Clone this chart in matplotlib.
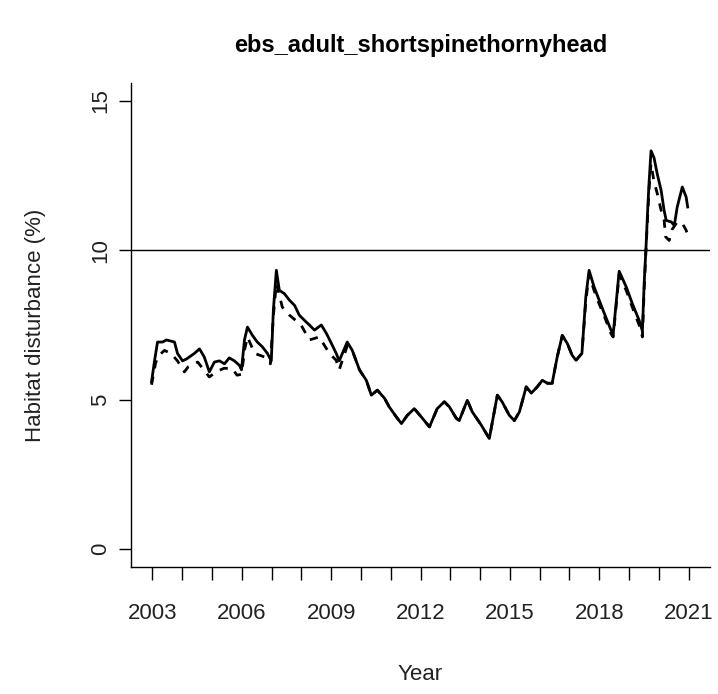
import numpy as np
import matplotlib
matplotlib.use("Agg")
import matplotlib.pyplot as plt

# ---- data ----------------------------------------------------------------
solid_year = [2002.97, 2003.07, 2003.17, 2003.34, 2003.47, 2003.74, 2003.84, 2004.01,
              2004.14, 2004.41, 2004.58, 2004.74, 2004.91, 2005.08, 2005.25, 2005.42,
              2005.58, 2005.75, 2005.92, 2005.99, 2006.09, 2006.19, 2006.36, 2006.52,
              2006.69, 2006.86, 2006.99, 2007.06, 2007.16, 2007.26, 2007.43, 2007.60,
              2007.77, 2007.93, 2008.10, 2008.27, 2008.44, 2008.67, 2008.84, 2009.01,
              2009.17, 2009.27, 2009.54, 2009.71, 2009.95, 2010.18, 2010.35, 2010.55,
              2010.79, 2010.95, 2011.19, 2011.36, 2011.56, 2011.79, 2012.03, 2012.30,
              2012.56, 2012.80, 2012.97, 2013.20, 2013.30, 2013.57, 2013.74, 2014.04,
              2014.31, 2014.58, 2014.74, 2014.98, 2015.15, 2015.32, 2015.55, 2015.72,
              2015.92, 2016.09, 2016.26, 2016.42, 2016.59, 2016.76, 2016.93, 2017.09,
              2017.22, 2017.42, 2017.55, 2017.66, 2017.83, 2018.00, 2018.17, 2018.40,
              2018.47, 2018.67, 2018.91, 2019.11, 2019.34, 2019.45, 2019.51, 2019.57,
              2019.62, 2019.67, 2019.74, 2019.84, 2019.95, 2020.08, 2020.18, 2020.25,
              2020.42, 2020.52, 2020.62, 2020.79, 2020.92, 2020.97]
solid_val = [5.60, 6.30, 6.93, 6.93, 7.00, 6.93, 6.55, 6.30,
             6.36, 6.55, 6.70, 6.43, 5.93, 6.26, 6.30, 6.20,
             6.40, 6.30, 6.15, 6.00, 7.00, 7.43, 7.15, 6.93,
             6.77, 6.55, 6.30, 8.00, 9.33, 8.66, 8.55, 8.33,
             8.16, 7.83, 7.66, 7.50, 7.33, 7.50, 7.22, 6.88,
             6.55, 6.30, 6.93, 6.65, 6.00, 5.65, 5.15, 5.32,
             5.05, 4.76, 4.42, 4.20, 4.48, 4.70, 4.42, 4.09,
             4.70, 4.93, 4.76, 4.38, 4.30, 4.98, 4.59, 4.15,
             3.70, 5.15, 4.93, 4.48, 4.30, 4.59, 5.43, 5.22,
             5.43, 5.65, 5.55, 5.55, 6.43, 7.15, 6.88, 6.49,
             6.32, 6.55, 8.44, 9.33, 8.77, 8.33, 7.89, 7.32,
             7.20, 9.30, 8.77, 8.22, 7.66, 7.30, 8.90, 10.07,
             11.20, 12.20, 13.33, 13.10, 12.55, 12.00, 11.33, 11.00,
             10.95, 10.83, 11.45, 12.12, 11.78, 11.45]

dash_year = [2002.97, 2003.10, 2003.17, 2003.40, 2003.62, 2003.84, 2004.07, 2004.20,
             2004.52, 2004.91, 2005.13, 2005.40, 2005.67, 2005.84, 2005.99, 2006.10,
             2006.19, 2006.43, 2006.76, 2006.96, 2007.06, 2007.16, 2007.36, 2007.60,
             2007.99, 2008.27, 2008.60, 2008.94, 2009.17, 2009.27, 2009.54, 2009.71,
             2009.95, 2010.18, 2010.35, 2010.55, 2010.79, 2010.95, 2011.19, 2011.36,
             2011.56, 2011.79, 2012.03, 2012.30, 2012.56, 2012.80, 2012.97, 2013.20,
             2013.30, 2013.57, 2013.74, 2014.04, 2014.31, 2014.58, 2014.74, 2014.98,
             2015.15, 2015.32, 2015.55, 2015.72, 2015.92, 2016.09, 2016.26, 2016.42,
             2016.59, 2016.76, 2016.93, 2017.09, 2017.22, 2017.42, 2017.55, 2017.66,
             2017.83, 2018.00, 2018.17, 2018.40, 2018.47, 2018.67, 2018.91, 2019.11,
             2019.34, 2019.45, 2019.51, 2019.57, 2019.67, 2019.74, 2019.84, 2019.95,
             2020.08, 2020.18, 2020.23, 2020.35, 2020.45, 2020.62, 2020.79, 2020.92,
             2020.97]
dash_val = [5.50, 6.20, 6.43, 6.65, 6.55, 6.30, 5.93, 6.10,
            6.26, 5.76, 5.93, 6.05, 6.05, 5.82, 5.85, 6.70,
            7.10, 6.55, 6.43, 6.20, 7.80, 8.90, 8.10, 7.83,
            7.50, 7.00, 7.10, 6.55, 6.32, 6.00, 6.80, 6.65,
            6.00, 5.65, 5.15, 5.32, 5.05, 4.76, 4.42, 4.20,
            4.48, 4.70, 4.42, 4.09, 4.70, 4.93, 4.76, 4.38,
            4.30, 4.98, 4.59, 4.15, 3.70, 5.15, 4.93, 4.48,
            4.30, 4.59, 5.43, 5.22, 5.43, 5.65, 5.55, 5.55,
            6.43, 7.15, 6.88, 6.49, 6.32, 6.55, 8.30, 9.20,
            8.65, 8.20, 7.80, 7.20, 7.10, 9.20, 8.65, 8.10,
            7.50, 7.10, 8.70, 10.00, 12.00, 12.90, 12.30, 11.90,
            11.33, 11.00, 10.45, 10.33, 10.70, 10.95, 10.90, 10.67,
            10.50]

threshold = 10
title = "ebs_adult_shortspinethornyhead"
year_ticks = list(range(2003, 2022))
year_labels = [str(y) if (y - 2003) % 3 == 0 else "" for y in year_ticks]
val_ticks = [0, 5, 10, 15]

# ---- plot ---------------------------------------------------------------
plt.rcParams['font.family'] = ['Liberation Sans', 'DejaVu Sans']

W, H = 718, 694
fig = plt.figure(figsize=(W / 100, H / 100), dpi=100)
ax = fig.add_axes([131 / W, 1 - 567 / H, (710 - 131) / W, (567 - 83) / H])

ax.plot(dash_year, dash_val, color="black", lw=2.0, ls=(0, (3, 3)))
ax.plot(solid_year, solid_val, color="black", lw=2.0)
ax.axhline(threshold, color="black", lw=1.0)

ax.set_xlim(2002.28, 2021.72)
ax.set_ylim(-0.6, 15.6)

ax.set_xticks(year_ticks)
ax.set_xticklabels(year_labels)
ax.set_yticks(val_ticks)
ax.set_yticklabels([str(v) for v in val_ticks], rotation=90, va="center")

ax.tick_params(axis="both", direction="out", length=9, width=1, labelsize=16,
               color="black", labelcolor="#222222")
ax.tick_params(axis="x", pad=17)
ax.tick_params(axis="y", pad=5)

for side in ("top", "right"):
    ax.spines[side].set_visible(False)
for side in ("left", "bottom"):
    ax.spines[side].set_linewidth(1.0)

ax.set_xlabel("Year", fontsize=16, color="#222222", labelpad=29)
ax.set_ylabel("Habitat disturbance (%)", fontsize=16, color="#222222", labelpad=32)
ax.set_title(title, fontsize=17, fontweight="bold", pad=22)

fig.savefig("out.png", dpi=100)
